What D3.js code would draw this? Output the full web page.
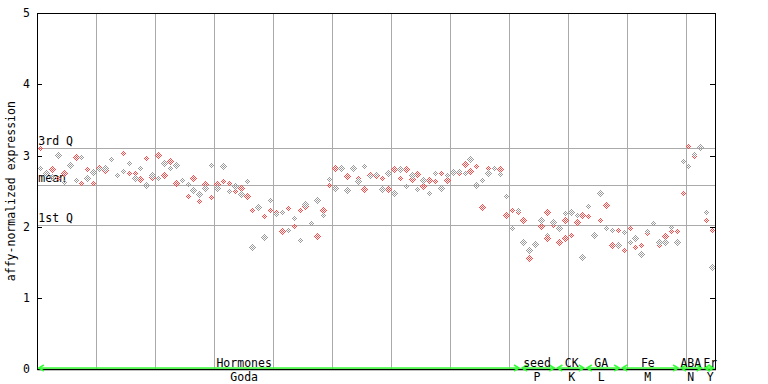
<!DOCTYPE html>
<html><head><meta charset="utf-8">
<script src="https://cdn.jsdelivr.net/npm/d3@7"></script>
<style>body{margin:0;background:#fff}svg{display:block}text{font-family:"DejaVu Sans Mono","Liberation Mono",monospace;font-size:11.5px;fill:#000}</style>
</head><body><svg id="c" width="768" height="384"></svg>
<script>
// replicate 1 (red) and replicate 2 (gray) per sample
const redVals = [3.10,2.74,2.81,2.68,2.76,2.86,2.98,2.61,2.81,2.61,2.82,2.80,2.95,2.73,3.03,2.76,2.76,2.67,2.96,2.70,
  3.01,2.73,2.92,2.62,2.66,2.43,2.68,2.36,2.60,2.42,2.60,2.64,2.62,2.50,2.54,2.43,2.24,2.28,2.15,2.24,
  2.21,1.94,2.26,2.01,2.23,2.29,2.05,1.87,2.24,2.58,2.83,2.82,2.71,2.82,2.68,2.53,2.72,2.73,2.68,2.53,
  2.81,2.69,2.81,2.67,2.74,2.57,2.65,2.64,2.75,2.65,2.77,2.75,2.88,2.78,2.86,2.28,2.83,2.82,2.81,2.16,
  2.24,2.21,2.10,1.56,1.76,2.01,2.21,2.03,1.98,2.10,2.20,2.06,2.16,2.15,1.89,2.10,2.30,1.74,1.95,1.67,
  1.98,1.71,1.74,1.91,2.05,1.75,1.87,1.94,1.94,2.48,3.13,2.99,3.13,2.10,1.95];
const grayVals = [2.82,2.76,2.70,3.01,2.63,2.87,2.66,2.98,2.68,2.77,2.81,2.82,2.95,2.73,2.78,2.89,2.68,2.83,2.58,2.73,
  2.68,2.89,2.83,2.87,2.65,2.60,2.51,2.46,2.54,2.87,2.54,2.85,2.50,2.57,2.46,2.64,1.71,2.28,1.85,2.38,
  2.18,2.21,1.96,2.12,1.81,2.32,2.05,2.37,2.16,2.67,2.55,2.82,2.51,2.82,2.64,2.85,2.71,2.74,2.53,2.75,
  2.48,2.81,2.57,2.72,2.53,2.65,2.48,2.76,2.54,2.72,2.77,2.79,2.75,2.95,2.58,2.65,2.75,2.82,2.74,2.43,
  1.98,2.24,1.79,1.67,1.76,2.10,1.89,2.06,1.98,2.19,2.20,2.16,1.58,2.29,1.89,2.48,1.98,1.96,1.74,1.92,
  1.78,1.84,1.61,1.94,2.05,1.79,1.78,1.99,1.78,2.93,2.85,3.02,3.12,2.20,1.44];
// a few samples show a third replicate
const thirdIdx = [86, 88, 89, 90];
const thirdVals = [1.84, 1.79, 1.84, 1.89];

const yTicks = [0,1,2,3,4,5];
const statNames = ["3rd Q","mean","1st Q"];
const statVals = [3.10, 2.58, 2.03];

const groupNames = ["Hormones","seed","CK","GA","Fe","ABA","Fr"];
const groupCodes = ["Goda","P","K","L","M","N","Y"];
const groupStart = [0, 82, 88, 93, 99, 109, 113];
const groupEnd   = [82, 88, 93, 99, 109, 113, 115];
const groupLabelAt = [35.1, 84.8, 90.7, 95.7, 103.6, 110.9, 114.2];

const N = redVals.length;
const svg = d3.select("#c");
const L = 37.3, R = 715, T = 13.3, B = 369;
const x = d3.scaleLinear().domain([0, N]).range([L, R]);
const y = d3.scaleLinear().domain([0, 5]).range([B, T]);

// checker patterns
const defs = svg.append("defs");
[["pr","#ff4a4a"],["pg","#9a9a9a"]].forEach(([id,c])=>{
  const p = defs.append("pattern").attr("id",id).attr("patternUnits","userSpaceOnUse").attr("width",2).attr("height",2);
  p.append("rect").attr("x",0).attr("y",0).attr("width",1).attr("height",1).attr("fill",c);
  p.append("rect").attr("x",1).attr("y",1).attr("width",1).attr("height",1).attr("fill",c);
});

// vertical grid every 10 samples
const vg = d3.range(10, N, 10);
svg.append("g").selectAll("line").data(vg).join("line")
  .attr("x1", d=>Math.round(x(d))+0.5).attr("x2", d=>Math.round(x(d))+0.5)
  .attr("y1", T).attr("y2", B).attr("stroke","#aaa").attr("stroke-width",1);
// stat lines
svg.append("g").selectAll("line").data(statVals).join("line")
  .attr("x1", L).attr("x2", R)
  .attr("y1", d=>Math.round(y(d))+0.5).attr("y2", d=>Math.round(y(d))+0.5)
  .attr("stroke","#aaa").attr("stroke-width",1);
svg.append("g").selectAll("text").data(statVals).join("text")
  .attr("x", L+1).attr("y", d=>Math.round(y(d))-3).text((d,i)=>statNames[i]);

// points
function diamond(cx, cy){ const r=3.5; return `M${cx},${cy-r}L${cx+r},${cy}L${cx},${cy+r}L${cx-r},${cy}Z`; }
const pts = [];
redVals.forEach((v,i)=>pts.push({i, v, f:"url(#pr)"}));
grayVals.forEach((v,i)=>pts.push({i, v, f:"url(#pg)"}));
thirdIdx.forEach((idx,k)=>pts.push({i:idx, v:thirdVals[k], f:"url(#pr)"}));
svg.append("g").selectAll("path").data(pts).join("path")
  .attr("d", d=>diamond(Math.round(x(d.i+0.5))+0.5, Math.round(y(d.v))+0.5))
  .attr("fill", d=>d.f).attr("shape-rendering","crispEdges");

// frame
const fr = svg.append("g").attr("stroke","#000").attr("stroke-width",1);
fr.append("line").attr("x1",L).attr("x2",R).attr("y1",13.5).attr("y2",13.5);
fr.append("line").attr("x1",37.5).attr("x2",37.5).attr("y1",13).attr("y2",B+1);
fr.append("line").attr("x1",715.5).attr("x2",715.5).attr("y1",13).attr("y2",B+1);
fr.append("line").attr("x1",L).attr("x2",R+1).attr("y1",369.5).attr("y2",369.5).attr("stroke-width",1.5);

// ticks
svg.append("g").selectAll("line").data(yTicks).join("line")
  .attr("x1",37.5).attr("x2",42).attr("y1",d=>Math.round(y(d))+0.5).attr("y2",d=>Math.round(y(d))+0.5).attr("stroke","#000");
svg.append("g").selectAll("line").data(yTicks).join("line")
  .attr("x1",710).attr("x2",715.5).attr("y1",d=>Math.round(y(d))+0.5).attr("y2",d=>Math.round(y(d))+0.5).attr("stroke","#000");
svg.append("g").selectAll("text").data(yTicks).join("text")
  .attr("x",30).attr("y",d=>y(d)+4).attr("text-anchor","end").text(d=>d);
svg.append("text").attr("transform",`translate(15,${(T+B)/2}) rotate(-90)`).attr("text-anchor","middle")
  .text("affy-normalized expression");

// group arrows
const ga = svg.append("g").attr("stroke","#3f3").attr("stroke-width",1.5).attr("fill","none");
groupNames.forEach((g,k)=>{
  const a = x(groupStart[k]) + 1.5, b = x(groupEnd[k]) - 1.5, yy = 368;
  ga.append("line").attr("x1",a).attr("x2",b).attr("y1",yy).attr("y2",yy);
  ga.append("path").attr("d",`M${a+5},${yy-3}L${a},${yy}L${a+5},${yy+3}`);
  ga.append("path").attr("d",`M${b-5},${yy-3}L${b},${yy}L${b-5},${yy+3}`);
});
svg.append("g").selectAll("text").data(groupNames).join("text")
  .attr("x",(d,k)=>x(groupLabelAt[k])).attr("y",366.5).attr("text-anchor","middle").text(d=>d);
svg.append("g").selectAll("text").data(groupCodes).join("text")
  .attr("x",(d,k)=>x(groupLabelAt[k])).attr("y",381).attr("text-anchor","middle").text(d=>d);
</script></body></html>
